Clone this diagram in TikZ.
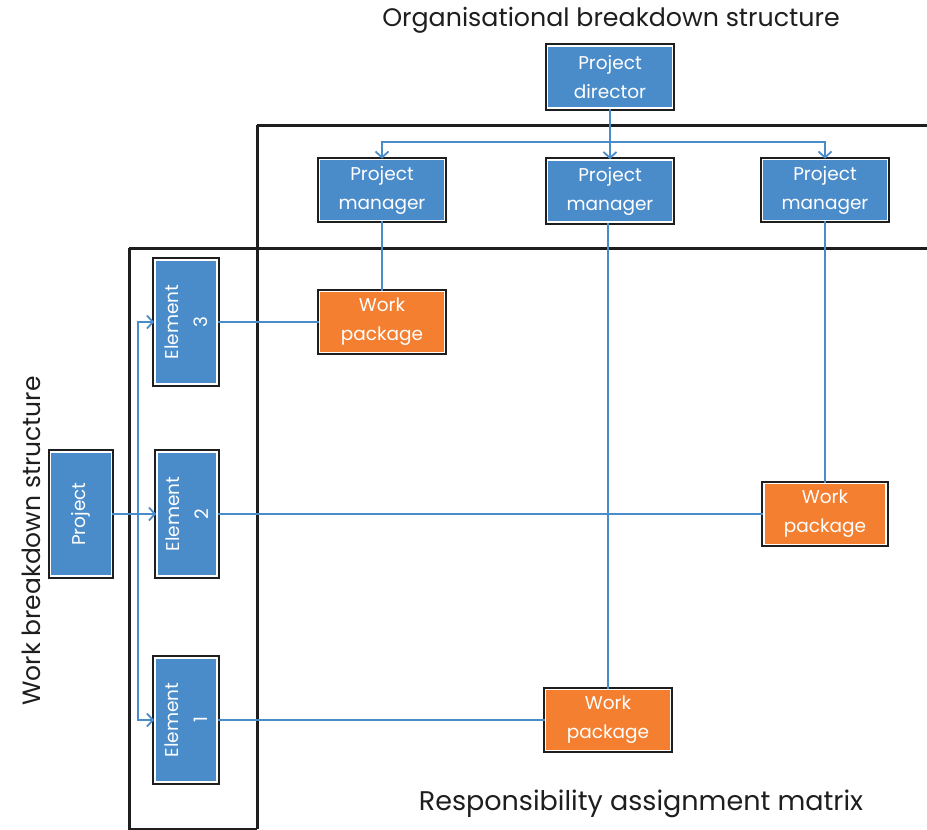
\documentclass[tikz,border=0pt]{standalone}
\usepackage{fontspec}
\setmainfont{Poppins}
\usetikzlibrary{arrows.meta}
\definecolor{boxblue}{HTML}{4A8CCA}
\definecolor{boxorange}{HTML}{F47F31}
\definecolor{ink}{HTML}{1E1E1E}
\begin{document}
\begin{tikzpicture}[x=1pt,y=-1pt,
  box/.style={draw=white, line width=1.6pt, fill=boxblue, text=white, align=center,
    preaction={draw=ink, line width=5.5pt}, inner sep=0pt,
    font=\fontsize{18.5}{29}\selectfont},
  hbox/.style={box, minimum width=125pt, minimum height=61pt},
  vbox/.style={box, rotate=90, minimum width=124pt, minimum height=62pt},
  wp/.style={hbox, fill=boxorange},
  frame/.style={draw=ink, line width=3pt},
  conn/.style={draw=boxblue, line width=1.8pt},
  arr/.style={conn, -{Straight Barb[length=6pt,width=13pt,line width=1.8pt]}},
  lbl/.style={text=ink, inner sep=0pt}
]
\useasboundingbox (0,0) rectangle (927,830);
% frames
\draw[frame] (129,248) -- (927,248);
\draw[frame] (257,125) -- (927,125);
\draw[frame] (257,125) -- (257,829);
\draw[frame] (129,248) -- (129,829) -- (257,829);
% labels
\node[lbl, font=\fontsize{25.3}{30}\selectfont] (tobs) at (611,20) {Organisational breakdown structure};
\node[lbl, rotate=90, font=\fontsize{25}{30}\selectfont] (twbs) at (31,541) {Work breakdown structure};
\node[lbl, font=\fontsize{27}{32}\selectfont] (tram) at (641,804) {Responsibility assignment matrix};
% OBS
\node[hbox, minimum height=62pt] (dir) at (610,77) {Project\\director};
\node[hbox] (pm1) at (382,190) {Project\\manager};
\node[hbox, minimum height=62pt] (pm2) at (610,191) {Project\\manager};
\node[hbox] (pm3) at (825,190) {Project\\manager};
% WBS
\node[vbox, minimum height=61pt] (proj) at (81,514) {Project};
\node[vbox] (e3) at (186,322) {Element\\3};
\node[vbox, minimum height=60pt] (e2) at (187,514) {Element\\2};
\node[vbox] (e1) at (186,720) {Element\\1};
% work packages
\node[wp] (wp1) at (382,322) {Work\\package};
\node[wp, minimum width=122pt] (wp2) at (825,514) {Work\\package};
\node[wp] (wp3) at (608,720) {Work\\package};
% connectors OBS
\coordinate (split) at (610,142);
\draw[conn] (dir) -- (split);
\draw[arr] (split) -| (pm1);
\draw[arr] (split) -- (pm2);
\draw[arr] (split) -| (pm3);
% connectors WBS
\coordinate (bus) at (138,514);
\draw[conn] (proj) -- (bus);
\draw[arr] (bus) |- (e3);
\draw[arr] (bus) -- (e2);
\draw[arr] (bus) |- (e1);
% matrix
\draw[conn] (pm1) -- (wp1);
\draw[conn] (pm2.south -| wp3) -- (wp3);
\draw[conn] (pm3) -- (wp2);
\draw[conn] (e3) -- (wp1);
\draw[conn] (e2) -- (wp2);
\draw[conn] (e1) -- (wp3);
\end{tikzpicture}
\end{document}
